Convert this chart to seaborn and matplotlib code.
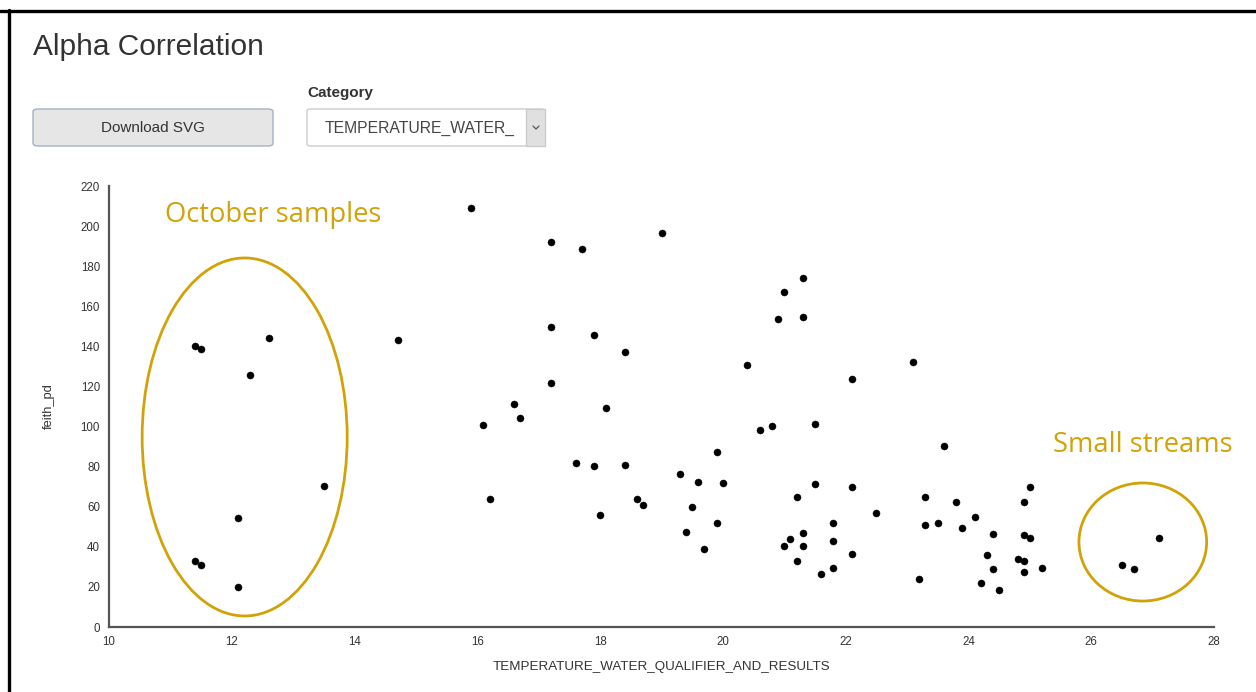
import matplotlib
matplotlib.use("Agg")
import matplotlib.pyplot as plt
import seaborn as sns
import pandas as pd
from matplotlib.patches import Ellipse, FancyBboxPatch, Rectangle
from matplotlib.lines import Line2D

# ---------------- data ----------------
temperature = [11.4, 11.5, 12.6, 12.3, 13.5, 12.1, 11.4, 11.5, 12.1,
               14.7,
               15.9, 17.2, 17.7, 19.0, 21.3, 21.0, 20.9, 21.3, 17.2, 17.9,
               18.4, 20.4, 17.2, 16.6, 16.7, 16.1, 18.1, 20.6, 20.8, 21.5,
               19.9, 17.6, 17.9, 18.4, 19.3, 19.6, 20.0, 21.5, 16.2, 18.6,
               18.7, 21.2, 18.0, 19.5, 19.9, 19.4, 21.3, 21.1, 21.0, 21.3,
               19.7, 21.2, 21.6, 21.8, 21.8, 21.8,
               22.1, 23.1, 23.6, 22.1, 25.0, 23.3, 23.8, 24.9, 22.5, 24.1,
               23.3, 23.5, 23.9, 24.4, 24.9, 25.0, 27.1, 22.1, 24.3, 24.8,
               24.9, 24.4, 25.2, 24.9, 26.5, 26.7, 23.2, 24.2, 24.5]
faith_pd = [140.4, 138.7, 144.2, 125.9, 70.4, 54.2, 32.9, 30.9, 20.0,
            143.2,
            208.8, 191.9, 188.6, 196.6, 174.0, 167.2, 153.5, 154.4, 149.9, 145.7,
            137.1, 130.6, 121.9, 111.1, 104.1, 101.0, 109.1, 98.5, 100.5, 101.1,
            87.3, 82.0, 80.2, 80.7, 76.5, 72.5, 72.0, 71.5, 63.9, 63.9,
            60.9, 65.0, 56.0, 59.7, 52.1, 47.6, 47.1, 44.1, 40.6, 40.3,
            39.1, 32.8, 26.3, 52.1, 42.9, 29.3,
            123.9, 132.1, 90.3, 70.0, 69.9, 64.7, 62.5, 62.5, 56.7, 54.9,
            51.1, 52.1, 49.4, 46.6, 46.1, 44.3, 44.3, 36.3, 35.8, 33.8,
            33.1, 29.1, 29.3, 27.3, 30.9, 28.8, 23.8, 22.1, 18.6]
x_ticks = [10, 12, 14, 16, 18, 20, 22, 24, 26, 28]
y_ticks = [0, 20, 40, 60, 80, 100, 120, 140, 160, 180, 200, 220]
x_label = "TEMPERATURE_WATER_QUALIFIER_AND_RESULTS"
y_label = "feith_pd"
title = "Alpha Correlation"
annot_labels = ["October samples", "Small streams"]

df = pd.DataFrame({"temp": temperature, "faith": faith_pd})

# ---------------- figure ----------------
sns.set_style("white")
plt.rcParams["font.family"] = ["Liberation Sans", "DejaVu Sans"]

W, H = 1256, 692
fig = plt.figure(figsize=(W / 100, H / 100), dpi=100)
fig.patch.set_facecolor("white")


def fx(px):
    return px / W


def fy(py):
    return 1 - py / H


# axes placement (pixel coords of reference)
L, R, T, B = 109, 1214, 186, 627
ax = fig.add_axes([fx(L), fy(B), fx(R) - fx(L), fy(T) - fy(B)])

sns.scatterplot(data=df, x="temp", y="faith", ax=ax, color="black",
                s=26, edgecolor="black", linewidth=0.3, zorder=3)

ax.set_xlim(10, 28)
ax.set_ylim(0, 220)
ax.set_xticks(x_ticks)
ax.set_yticks(y_ticks)
ax.set_xticklabels([str(v) for v in x_ticks])
ax.set_yticklabels([str(v) for v in y_ticks])
ax.set_xlabel("")
ax.set_ylabel("")
for s in ["top", "right"]:
    ax.spines[s].set_visible(False)
for s in ["left", "bottom"]:
    ax.spines[s].set_color("#555555")
    ax.spines[s].set_linewidth(1.6)
ax.tick_params(axis="both", direction="out", length=4.5, width=1.0,
               color="#555555", labelsize=8.3, labelcolor="#333333", pad=2)
ax.grid(False)

# axis labels
fig.text(fx(661), fy(667), x_label, ha="center", va="center",
         fontsize=9.6, color="#333333")
fig.text(fx(49), fy(406), y_label, ha="center", va="center",
         fontsize=9.3, color="#333333", rotation=90)

# annotations
gold = "#D2A209"
ax.add_patch(Ellipse((12.21, 94.8), 3.34, 178.6, fill=False,
                     edgecolor=gold, linewidth=2.0, zorder=2))
ax.add_patch(Ellipse((26.84, 42.4), 2.08, 58.9, fill=False,
                     edgecolor=gold, linewidth=2.0, zorder=2))
fig.text(fx(165), fy(215), annot_labels[0], ha="left", va="center",
         fontsize=19.7, color=gold, family=["Open Sans", "DejaVu Sans"])
fig.text(fx(1053), fy(445), annot_labels[1], ha="left", va="center",
         fontsize=19.7, color=gold, family=["Open Sans", "DejaVu Sans"])

# title
fig.text(fx(33), fy(47), title, ha="left", va="center",
         fontsize=21.5, color="#333333")

# "Download SVG" button
btn = FancyBboxPatch((fx(33), fy(146)), fx(273) - fx(33), fy(109) - fy(146),
                     boxstyle="round,pad=0,rounding_size=0.004",
                     transform=fig.transFigure, facecolor="#e6e6e6",
                     edgecolor="#9fb3c8", linewidth=1.0)
fig.patches.append(btn)
fig.text(fx(153), fy(128), "Download SVG", ha="center", va="center",
         fontsize=11, color="#333333")

# Category label + select box
fig.text(fx(307), fy(93), "Category", ha="left", va="center",
         fontsize=11, color="#333333", fontweight="bold")
sel = FancyBboxPatch((fx(307), fy(146)), fx(545) - fx(307), fy(109) - fy(146),
                     boxstyle="round,pad=0,rounding_size=0.003",
                     transform=fig.transFigure, facecolor="white",
                     edgecolor="#cccccc", linewidth=1.0)
fig.patches.append(sel)
drop = Rectangle((fx(526), fy(146)), fx(545) - fx(526), fy(109) - fy(146),
                 transform=fig.transFigure, facecolor="#e0e0e0",
                 edgecolor="#cccccc", linewidth=1.0)
fig.patches.append(drop)
fig.text(fx(325), fy(128), "TEMPERATURE_WATER_", ha="left", va="center",
         fontsize=11.3, color="#444444")
# chevron in the dropdown
fig.lines.append(Line2D([fx(533), fx(536), fx(539)], [fy(126), fy(129), fy(126)],
                        transform=fig.transFigure, color="#555555", linewidth=0.9))

# outer frame (top and left black lines)
fig.lines.append(Line2D([fx(0), fx(W)], [fy(10.5), fy(10.5)],
                        transform=fig.transFigure, color="black", linewidth=2.4))
fig.lines.append(Line2D([fx(8.5), fx(8.5)], [fy(10), fy(H)],
                        transform=fig.transFigure, color="black", linewidth=2.4))

fig.savefig("out.png", dpi=100, facecolor="white")
